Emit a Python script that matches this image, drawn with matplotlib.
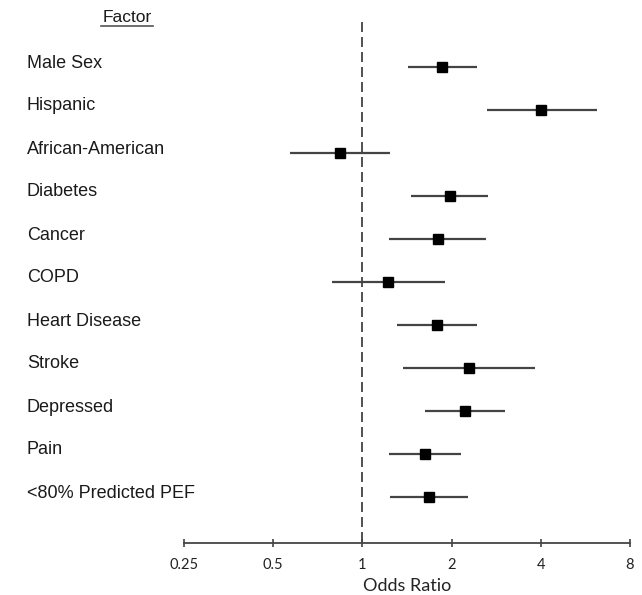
import matplotlib.pyplot as plt
import matplotlib.transforms as mtransforms
from matplotlib.lines import Line2D
from matplotlib.ticker import FixedLocator, FixedFormatter, NullLocator

# odds ratios with 95% confidence intervals
factors = ['Male Sex', 'Hispanic', 'African-American', 'Diabetes', 'Cancer', 'COPD',
           'Heart Disease', 'Stroke', 'Depressed', 'Pain', '<80% Predicted PEF']
odds_ratio = [1.86, 4.00, 0.84, 1.98, 1.80, 1.22, 1.79, 2.29, 2.22, 1.63, 1.68]
ci_low = [1.42, 2.63, 0.57, 1.46, 1.23, 0.79, 1.31, 1.37, 1.63, 1.23, 1.24]
ci_high = [2.44, 6.18, 1.24, 2.65, 2.61, 1.90, 2.44, 3.82, 3.02, 2.15, 2.27]
tick_values = [0.25, 0.5, 1, 2, 4, 8]
tick_labels = ['0.25', '0.5', '1', '2', '4', '8']

W, H = 642, 595
fig = plt.figure(figsize=(W / 100, H / 100), dpi=100)

# axes placed in pixel terms: x from 0.25 (184px) to 8 (630px), bottom spine at 543px
left, right, top, bottom = 184, 630, 10, 543
ax = fig.add_axes([left / W, 1 - bottom / H, (right - left) / W, (bottom - top) / H])

row_y0, row_step = 67, 43
y_bottom = (bottom - row_y0) / row_step
y_top = (top - row_y0) / row_step
rows = list(range(len(factors)))

ax.set_xscale('log')
ax.set_xlim(0.25, 8)
ax.set_ylim(y_bottom, y_top)

# reference line at OR = 1
ax.vlines(1, (22 - row_y0) / row_step, y_bottom, colors='#333333', linestyles=(0, (6, 3)),
          linewidth=1.2, zorder=1)

ax.hlines(rows, ci_low, ci_high, colors='#444444', linewidth=1.6, zorder=2)
ax.plot(odds_ratio, rows, 's', color='black', markersize=6.8, zorder=3)

for side in ['left', 'right', 'top']:
    ax.spines[side].set_visible(False)
ax.spines['bottom'].set_color('#444444')
ax.spines['bottom'].set_linewidth(1.3)
ax.yaxis.set_visible(False)
ax.xaxis.set_major_locator(FixedLocator(tick_values))
ax.xaxis.set_major_formatter(FixedFormatter(tick_labels))
ax.xaxis.set_minor_locator(NullLocator())
ax.tick_params(axis='x', direction='inout', length=6, width=1.2, color='#444444',
               labelsize=10.5, labelcolor='#222222', pad=8)
for lbl in ax.get_xticklabels():
    lbl.set_fontfamily('Lato')
ax.set_xlabel('Odds Ratio', fontsize=13, fontfamily='Lato', color='#222222', labelpad=4)

# factor names on the left, sitting a little above their rows
trans = mtransforms.blended_transform_factory(fig.transFigure, ax.transData)
for i, name in enumerate(factors):
    ax.text(27 / W, i - 4 / row_step, name, transform=trans, ha='left', va='center',
            fontsize=13, fontfamily='Liberation Sans', color='#1a1a1a')

fig.text(127 / W, 1 - 17 / H, 'Factor', ha='center', va='center', fontsize=12.5,
         fontfamily='Liberation Sans', color='#1a1a1a')
fig.add_artist(Line2D([101 / W, 153 / W], [1 - 26 / H, 1 - 26 / H], color='#555555',
                      linewidth=1.2, transform=fig.transFigure))

fig.savefig('out.png', dpi=100)
